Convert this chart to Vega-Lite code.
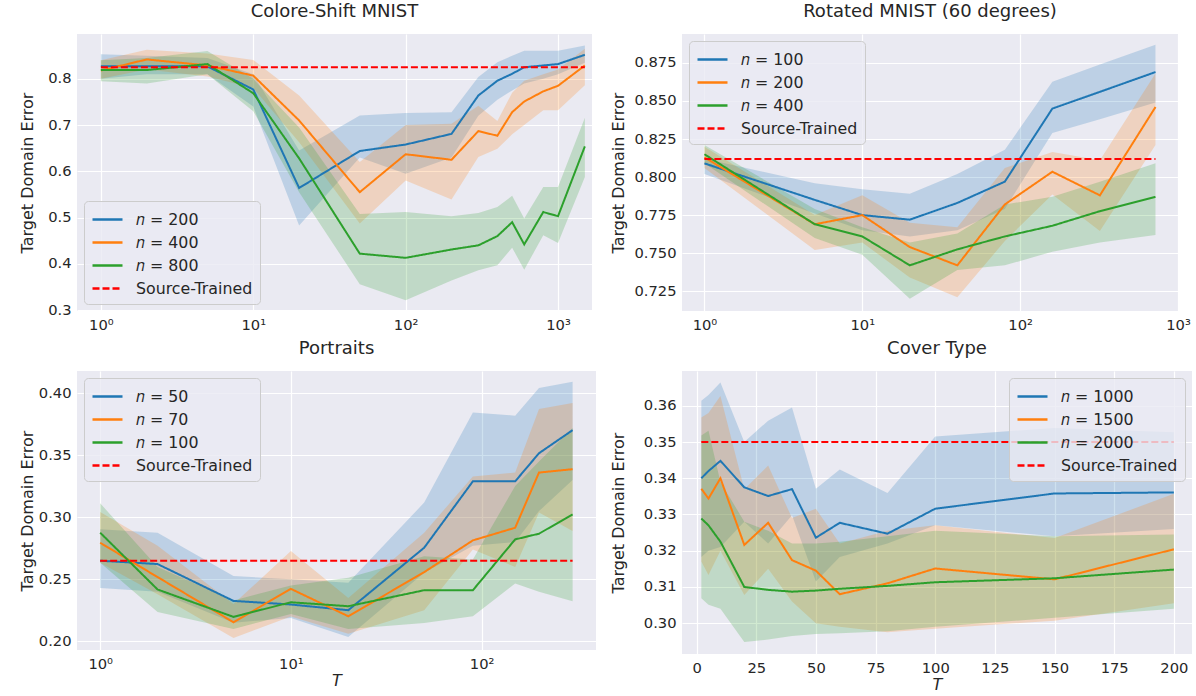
{
  "$schema": "https://vega.github.io/schema/vega-lite/v6.json",
  "padding": {"left": 19, "top": 3, "right": 0, "bottom": 0},
  "columns": 2,
  "spacing": {"row": 8, "column": 14},
  "datasets": {
    "p1": [
      {"x":1,"s":"𝑛 = 200","y":0.827,"lo":0.80,"hi":0.853},
      {"x":2,"s":"𝑛 = 200","y":0.827,"lo":0.81,"hi":0.85},
      {"x":5,"s":"𝑛 = 200","y":0.827,"lo":0.81,"hi":0.845},
      {"x":10,"s":"𝑛 = 200","y":0.777,"lo":0.74,"hi":0.81},
      {"x":20,"s":"𝑛 = 200","y":0.564,"lo":0.483,"hi":0.645},
      {"x":50,"s":"𝑛 = 200","y":0.644,"lo":0.63,"hi":0.721},
      {"x":100,"s":"𝑛 = 200","y":0.658,"lo":0.595,"hi":0.726},
      {"x":200,"s":"𝑛 = 200","y":0.681,"lo":0.63,"hi":0.728},
      {"x":300,"s":"𝑛 = 200","y":0.764,"lo":0.72,"hi":0.804},
      {"x":400,"s":"𝑛 = 200","y":0.796,"lo":0.755,"hi":0.836},
      {"x":500,"s":"𝑛 = 200","y":0.811,"lo":0.775,"hi":0.85},
      {"x":600,"s":"𝑛 = 200","y":0.825,"lo":0.79,"hi":0.861},
      {"x":800,"s":"𝑛 = 200","y":0.829,"lo":0.80,"hi":0.861},
      {"x":1000,"s":"𝑛 = 200","y":0.832,"lo":0.81,"hi":0.861},
      {"x":1500,"s":"𝑛 = 200","y":0.852,"lo":0.835,"hi":0.872},
      {"x":1,"s":"𝑛 = 400","y":0.818,"lo":0.80,"hi":0.84},
      {"x":2,"s":"𝑛 = 400","y":0.842,"lo":0.82,"hi":0.863},
      {"x":5,"s":"𝑛 = 400","y":0.829,"lo":0.805,"hi":0.855},
      {"x":10,"s":"𝑛 = 400","y":0.807,"lo":0.78,"hi":0.841},
      {"x":20,"s":"𝑛 = 400","y":0.71,"lo":0.663,"hi":0.764},
      {"x":50,"s":"𝑛 = 400","y":0.555,"lo":0.487,"hi":0.62},
      {"x":100,"s":"𝑛 = 400","y":0.637,"lo":0.58,"hi":0.70},
      {"x":200,"s":"𝑛 = 400","y":0.625,"lo":0.539,"hi":0.703},
      {"x":300,"s":"𝑛 = 400","y":0.687,"lo":0.631,"hi":0.742},
      {"x":400,"s":"𝑛 = 400","y":0.677,"lo":0.649,"hi":0.709},
      {"x":500,"s":"𝑛 = 400","y":0.728,"lo":0.68,"hi":0.77},
      {"x":600,"s":"𝑛 = 400","y":0.751,"lo":0.70,"hi":0.796},
      {"x":800,"s":"𝑛 = 400","y":0.773,"lo":0.732,"hi":0.81},
      {"x":1000,"s":"𝑛 = 400","y":0.785,"lo":0.732,"hi":0.82},
      {"x":1500,"s":"𝑛 = 400","y":0.829,"lo":0.786,"hi":0.865},
      {"x":1,"s":"𝑛 = 800","y":0.819,"lo":0.795,"hi":0.84},
      {"x":2,"s":"𝑛 = 800","y":0.819,"lo":0.79,"hi":0.845},
      {"x":5,"s":"𝑛 = 800","y":0.832,"lo":0.81,"hi":0.86},
      {"x":10,"s":"𝑛 = 800","y":0.769,"lo":0.73,"hi":0.80},
      {"x":20,"s":"𝑛 = 800","y":0.628,"lo":0.555,"hi":0.695},
      {"x":50,"s":"𝑛 = 800","y":0.422,"lo":0.356,"hi":0.508},
      {"x":100,"s":"𝑛 = 800","y":0.413,"lo":0.321,"hi":0.512},
      {"x":200,"s":"𝑛 = 800","y":0.431,"lo":0.364,"hi":0.503},
      {"x":300,"s":"𝑛 = 800","y":0.44,"lo":0.386,"hi":0.51},
      {"x":400,"s":"𝑛 = 800","y":0.46,"lo":0.397,"hi":0.523},
      {"x":500,"s":"𝑛 = 800","y":0.49,"lo":0.435,"hi":0.547},
      {"x":600,"s":"𝑛 = 800","y":0.442,"lo":0.387,"hi":0.498},
      {"x":800,"s":"𝑛 = 800","y":0.512,"lo":0.462,"hi":0.566},
      {"x":1000,"s":"𝑛 = 800","y":0.503,"lo":0.445,"hi":0.566},
      {"x":1500,"s":"𝑛 = 800","y":0.654,"lo":0.588,"hi":0.716}
    ],
    "p1s": [
      {"x":1,"s":"Source-Trained","y":0.825},
      {"x":1500,"s":"Source-Trained","y":0.825}
    ],
    "p2": [
      {"x":1,"s":"𝑛 = 100","y":0.809,"lo":0.802,"hi":0.812},
      {"x":5,"s":"𝑛 = 100","y":0.785,"lo":0.776,"hi":0.796},
      {"x":10,"s":"𝑛 = 100","y":0.775,"lo":0.765,"hi":0.792},
      {"x":20,"s":"𝑛 = 100","y":0.772,"lo":0.761,"hi":0.789},
      {"x":40,"s":"𝑛 = 100","y":0.783,"lo":0.765,"hi":0.802},
      {"x":80,"s":"𝑛 = 100","y":0.797,"lo":0.779,"hi":0.818},
      {"x":160,"s":"𝑛 = 100","y":0.845,"lo":0.829,"hi":0.8626},
      {"x":320,"s":"𝑛 = 100","y":0.856,"lo":0.838,"hi":0.874},
      {"x":720,"s":"𝑛 = 100","y":0.869,"lo":0.849,"hi":0.887},
      {"x":1,"s":"𝑛 = 200","y":0.813,"lo":0.806,"hi":0.82},
      {"x":5,"s":"𝑛 = 200","y":0.769,"lo":0.752,"hi":0.775},
      {"x":10,"s":"𝑛 = 200","y":0.775,"lo":0.757,"hi":0.788},
      {"x":20,"s":"𝑛 = 200","y":0.754,"lo":0.734,"hi":0.77},
      {"x":40,"s":"𝑛 = 200","y":0.742,"lo":0.721,"hi":0.767},
      {"x":80,"s":"𝑛 = 200","y":0.782,"lo":0.758,"hi":0.806},
      {"x":160,"s":"𝑛 = 200","y":0.8035,"lo":0.7885,"hi":0.8164},
      {"x":320,"s":"𝑛 = 200","y":0.788,"lo":0.7645,"hi":0.811},
      {"x":720,"s":"𝑛 = 200","y":0.846,"lo":0.821,"hi":0.868},
      {"x":1,"s":"𝑛 = 400","y":0.815,"lo":0.809,"hi":0.821},
      {"x":5,"s":"𝑛 = 400","y":0.769,"lo":0.76,"hi":0.779},
      {"x":10,"s":"𝑛 = 400","y":0.761,"lo":0.749,"hi":0.767},
      {"x":20,"s":"𝑛 = 400","y":0.742,"lo":0.72,"hi":0.757},
      {"x":40,"s":"𝑛 = 400","y":0.7525,"lo":0.739,"hi":0.763},
      {"x":80,"s":"𝑛 = 400","y":0.761,"lo":0.742,"hi":0.782},
      {"x":160,"s":"𝑛 = 400","y":0.768,"lo":0.751,"hi":0.787},
      {"x":320,"s":"𝑛 = 400","y":0.7776,"lo":0.757,"hi":0.797},
      {"x":720,"s":"𝑛 = 400","y":0.787,"lo":0.762,"hi":0.809}
    ],
    "p2s": [
      {"x":1,"s":"Source-Trained","y":0.8118},
      {"x":720,"s":"Source-Trained","y":0.8118}
    ],
    "p3": [
      {"x":1,"s":"𝑛 = 50","y":0.265,"lo":0.2431,"hi":0.2903},
      {"x":2,"s":"𝑛 = 50","y":0.2623,"lo":0.24,"hi":0.2876},
      {"x":5,"s":"𝑛 = 50","y":0.2326,"lo":0.215,"hi":0.2526},
      {"x":10,"s":"𝑛 = 50","y":0.2297,"lo":0.2189,"hi":0.25},
      {"x":20,"s":"𝑛 = 50","y":0.2251,"lo":0.2035,"hi":0.2472},
      {"x":50,"s":"𝑛 = 50","y":0.2755,"lo":0.2553,"hi":0.3119},
      {"x":90,"s":"𝑛 = 50","y":0.329,"lo":0.277,"hi":0.3846},
      {"x":150,"s":"𝑛 = 50","y":0.329,"lo":0.28,"hi":0.382},
      {"x":200,"s":"𝑛 = 50","y":0.3517,"lo":0.305,"hi":0.4043},
      {"x":300,"s":"𝑛 = 50","y":0.3703,"lo":0.33,"hi":0.4094},
      {"x":1,"s":"𝑛 = 70","y":0.2795,"lo":0.2633,"hi":0.3043},
      {"x":2,"s":"𝑛 = 70","y":0.2518,"lo":0.238,"hi":0.277},
      {"x":5,"s":"𝑛 = 70","y":0.2154,"lo":0.2027,"hi":0.23},
      {"x":10,"s":"𝑛 = 70","y":0.2423,"lo":0.22,"hi":0.2728},
      {"x":20,"s":"𝑛 = 70","y":0.2202,"lo":0.2062,"hi":0.235},
      {"x":50,"s":"𝑛 = 70","y":0.2558,"lo":0.225,"hi":0.2876},
      {"x":90,"s":"𝑛 = 70","y":0.2814,"lo":0.2741,"hi":0.333},
      {"x":150,"s":"𝑛 = 70","y":0.2916,"lo":0.26,"hi":0.3361},
      {"x":200,"s":"𝑛 = 70","y":0.3361,"lo":0.3038,"hi":0.3873},
      {"x":300,"s":"𝑛 = 70","y":0.3388,"lo":0.2889,"hi":0.3922},
      {"x":1,"s":"𝑛 = 100","y":0.2876,"lo":0.2633,"hi":0.3113},
      {"x":2,"s":"𝑛 = 100","y":0.2418,"lo":0.2237,"hi":0.26},
      {"x":5,"s":"𝑛 = 100","y":0.2197,"lo":0.21,"hi":0.233},
      {"x":10,"s":"𝑛 = 100","y":0.2315,"lo":0.222,"hi":0.245},
      {"x":20,"s":"𝑛 = 100","y":0.2283,"lo":0.21,"hi":0.2512},
      {"x":50,"s":"𝑛 = 100","y":0.2412,"lo":0.2148,"hi":0.2687},
      {"x":90,"s":"𝑛 = 100","y":0.2412,"lo":0.2202,"hi":0.266},
      {"x":150,"s":"𝑛 = 100","y":0.2822,"lo":0.2466,"hi":0.3253},
      {"x":200,"s":"𝑛 = 100","y":0.2868,"lo":0.24,"hi":0.345},
      {"x":300,"s":"𝑛 = 100","y":0.3024,"lo":0.2324,"hi":0.372}
    ],
    "p3s": [
      {"x":1,"s":"Source-Trained","y":0.265},
      {"x":300,"s":"Source-Trained","y":0.265}
    ],
    "p4": [
      {"x":2,"s":"𝑛 = 1000","y":0.34,"lo":0.3183,"hi":0.3614},
      {"x":5,"s":"𝑛 = 1000","y":0.342,"lo":0.32,"hi":0.363},
      {"x":10,"s":"𝑛 = 1000","y":0.3448,"lo":0.321,"hi":0.3664},
      {"x":20,"s":"𝑛 = 1000","y":0.3375,"lo":0.328,"hi":0.35},
      {"x":30,"s":"𝑛 = 1000","y":0.3351,"lo":0.322,"hi":0.3559},
      {"x":40,"s":"𝑛 = 1000","y":0.337,"lo":0.3298,"hi":0.3595},
      {"x":50,"s":"𝑛 = 1000","y":0.3236,"lo":0.3115,"hi":0.3371},
      {"x":60,"s":"𝑛 = 1000","y":0.3277,"lo":0.3183,"hi":0.3424},
      {"x":80,"s":"𝑛 = 1000","y":0.3247,"lo":0.322,"hi":0.3359},
      {"x":100,"s":"𝑛 = 1000","y":0.3316,"lo":0.327,"hi":0.3515},
      {"x":150,"s":"𝑛 = 1000","y":0.3358,"lo":0.324,"hi":0.3539},
      {"x":200,"s":"𝑛 = 1000","y":0.3361,"lo":0.326,"hi":0.3527},
      {"x":2,"s":"𝑛 = 1500","y":0.3371,"lo":0.317,"hi":0.3568},
      {"x":5,"s":"𝑛 = 1500","y":0.3344,"lo":0.3133,"hi":0.358},
      {"x":10,"s":"𝑛 = 1500","y":0.34,"lo":0.32,"hi":0.3627},
      {"x":20,"s":"𝑛 = 1500","y":0.3216,"lo":0.3078,"hi":0.337},
      {"x":30,"s":"𝑛 = 1500","y":0.3277,"lo":0.315,"hi":0.3435},
      {"x":40,"s":"𝑛 = 1500","y":0.3174,"lo":0.306,"hi":0.329},
      {"x":50,"s":"𝑛 = 1500","y":0.3145,"lo":0.30,"hi":0.3316},
      {"x":60,"s":"𝑛 = 1500","y":0.308,"lo":0.299,"hi":0.322},
      {"x":80,"s":"𝑛 = 1500","y":0.311,"lo":0.2975,"hi":0.3255},
      {"x":100,"s":"𝑛 = 1500","y":0.3151,"lo":0.2985,"hi":0.327},
      {"x":150,"s":"𝑛 = 1500","y":0.3121,"lo":0.3007,"hi":0.3235},
      {"x":200,"s":"𝑛 = 1500","y":0.3204,"lo":0.3055,"hi":0.3357},
      {"x":2,"s":"𝑛 = 2000","y":0.3289,"lo":0.3069,"hi":0.3518},
      {"x":5,"s":"𝑛 = 2000","y":0.327,"lo":0.3051,"hi":0.3531},
      {"x":10,"s":"𝑛 = 2000","y":0.3225,"lo":0.304,"hi":0.339},
      {"x":20,"s":"𝑛 = 2000","y":0.31,"lo":0.2948,"hi":0.328},
      {"x":30,"s":"𝑛 = 2000","y":0.3092,"lo":0.2955,"hi":0.3255},
      {"x":40,"s":"𝑛 = 2000","y":0.3087,"lo":0.2965,"hi":0.322},
      {"x":50,"s":"𝑛 = 2000","y":0.309,"lo":0.297,"hi":0.322},
      {"x":60,"s":"𝑛 = 2000","y":0.3095,"lo":0.2972,"hi":0.3225},
      {"x":80,"s":"𝑛 = 2000","y":0.3103,"lo":0.2978,"hi":0.324},
      {"x":100,"s":"𝑛 = 2000","y":0.3113,"lo":0.299,"hi":0.3255},
      {"x":150,"s":"𝑛 = 2000","y":0.3124,"lo":0.3015,"hi":0.324},
      {"x":200,"s":"𝑛 = 2000","y":0.3148,"lo":0.304,"hi":0.3245}
    ],
    "p4s": [
      {"x":2,"s":"Source-Trained","y":0.35},
      {"x":200,"s":"Source-Trained","y":0.35}
    ]
  },
  "concat": [
    {
      "title": "Colore-Shift MNIST",
      "width": 515, "height": 277,
      "encoding": {
        "x": {"field": "x", "type": "quantitative", "scale": {"type": "log", "domain": [0.697, 1671], "nice": false},
              "axis": {"values": [1, 10, 100, 1000], "labelExpr": "datum.value == 1 ? '10⁰' : datum.value == 10 ? '10¹' : datum.value == 100 ? '10²' : '10³'", "title": null}}
      },
      "layer": [
        {"data": {"name": "p1"}, "mark": {"type": "area", "fillOpacity": 0.22},
         "encoding": {
           "y": {"field": "lo", "type": "quantitative", "scale": {"domain": [0.298, 0.897], "nice": false, "zero": false},
                 "axis": {"values": [0.3, 0.4, 0.5, 0.6, 0.7, 0.8], "format": ".1f", "title": "Target Domain Error", "minExtent": 38, "maxExtent": 38}},
           "y2": {"field": "hi"},
           "fill": {"field": "s", "type": "nominal", "scale": {"domain": ["𝑛 = 200", "𝑛 = 400", "𝑛 = 800"], "range": ["#1f77b4", "#ff7f0e", "#2ca02c"]}, "legend": null}
         }},
        {"data": {"name": "p1"}, "mark": {"type": "line", "strokeWidth": 2},
         "encoding": {
           "y": {"field": "y", "type": "quantitative", "axis": {"values": [0.3, 0.4, 0.5, 0.6, 0.7, 0.8], "format": ".1f", "title": "Target Domain Error", "minExtent": 38, "maxExtent": 38}},
           "color": {"field": "s", "type": "nominal", "scale": {"domain": ["𝑛 = 200", "𝑛 = 400", "𝑛 = 800", "Source-Trained"], "range": ["#1f77b4", "#ff7f0e", "#2ca02c", "#ff0000"]}, "legend": {"orient": "bottom-left"}},
           "strokeDash": {"field": "s", "type": "nominal", "scale": {"domain": ["𝑛 = 200", "𝑛 = 400", "𝑛 = 800", "Source-Trained"], "range": [[1, 0], [1, 0], [1, 0], [7, 3]]}, "legend": {"orient": "bottom-left"}}
         }},
        {"data": {"name": "p1s"}, "mark": {"type": "line", "strokeWidth": 2},
         "encoding": {
           "y": {"field": "y", "type": "quantitative"},
           "color": {"field": "s", "type": "nominal"},
           "strokeDash": {"field": "s", "type": "nominal"}
         }}
      ]
    },
    {
      "title": "Rotated MNIST (60 degrees)",
      "width": 496, "height": 277,
      "encoding": {
        "x": {"field": "x", "type": "quantitative", "scale": {"type": "log", "domain": [0.721, 1000], "nice": false},
              "axis": {"values": [1, 10, 100, 1000], "labelExpr": "datum.value == 1 ? '10⁰' : datum.value == 10 ? '10¹' : datum.value == 100 ? '10²' : '10³'", "title": null}}
      },
      "layer": [
        {"data": {"name": "p2"}, "mark": {"type": "area", "fillOpacity": 0.22},
         "encoding": {
           "y": {"field": "lo", "type": "quantitative", "scale": {"domain": [0.712, 0.894], "nice": false, "zero": false},
                 "axis": {"values": [0.725, 0.75, 0.775, 0.8, 0.825, 0.85, 0.875], "format": ".3f", "title": "Target Domain Error", "minExtent": 52, "maxExtent": 52}},
           "y2": {"field": "hi"},
           "fill": {"field": "s", "type": "nominal", "scale": {"domain": ["𝑛 = 100", "𝑛 = 200", "𝑛 = 400"], "range": ["#1f77b4", "#ff7f0e", "#2ca02c"]}, "legend": null}
         }},
        {"data": {"name": "p2"}, "mark": {"type": "line", "strokeWidth": 2},
         "encoding": {
           "y": {"field": "y", "type": "quantitative", "axis": {"values": [0.725, 0.75, 0.775, 0.8, 0.825, 0.85, 0.875], "format": ".3f", "title": "Target Domain Error", "minExtent": 52, "maxExtent": 52}},
           "color": {"field": "s", "type": "nominal", "scale": {"domain": ["𝑛 = 100", "𝑛 = 200", "𝑛 = 400", "Source-Trained"], "range": ["#1f77b4", "#ff7f0e", "#2ca02c", "#ff0000"]}, "legend": {"orient": "top-left"}},
           "strokeDash": {"field": "s", "type": "nominal", "scale": {"domain": ["𝑛 = 100", "𝑛 = 200", "𝑛 = 400", "Source-Trained"], "range": [[1, 0], [1, 0], [1, 0], [7, 3]]}, "legend": {"orient": "top-left"}}
         }},
        {"data": {"name": "p2s"}, "mark": {"type": "line", "strokeWidth": 2},
         "encoding": {
           "y": {"field": "y", "type": "quantitative"},
           "color": {"field": "s", "type": "nominal"},
           "strokeDash": {"field": "s", "type": "nominal"}
         }}
      ]
    },
    {
      "title": "Portraits",
      "width": 519, "height": 279,
      "encoding": {
        "x": {"field": "x", "type": "quantitative", "scale": {"type": "log", "domain": [0.756, 398], "nice": false},
              "axis": {"values": [1, 10, 100], "labelExpr": "datum.value == 1 ? '10⁰' : datum.value == 10 ? '10¹' : '10²'", "title": "T", "titleFontStyle": "italic"}}
      },
      "layer": [
        {"data": {"name": "p3"}, "mark": {"type": "area", "fillOpacity": 0.22},
         "encoding": {
           "y": {"field": "lo", "type": "quantitative", "scale": {"domain": [0.193, 0.418], "nice": false, "zero": false},
                 "axis": {"values": [0.2, 0.25, 0.3, 0.35, 0.4], "format": ".2f", "title": "Target Domain Error", "minExtent": 38, "maxExtent": 38}},
           "y2": {"field": "hi"},
           "fill": {"field": "s", "type": "nominal", "scale": {"domain": ["𝑛 = 50", "𝑛 = 70", "𝑛 = 100"], "range": ["#1f77b4", "#ff7f0e", "#2ca02c"]}, "legend": null}
         }},
        {"data": {"name": "p3"}, "mark": {"type": "line", "strokeWidth": 2},
         "encoding": {
           "y": {"field": "y", "type": "quantitative", "axis": {"values": [0.2, 0.25, 0.3, 0.35, 0.4], "format": ".2f", "title": "Target Domain Error", "minExtent": 38, "maxExtent": 38}},
           "color": {"field": "s", "type": "nominal", "scale": {"domain": ["𝑛 = 50", "𝑛 = 70", "𝑛 = 100", "Source-Trained"], "range": ["#1f77b4", "#ff7f0e", "#2ca02c", "#ff0000"]}, "legend": {"orient": "top-left"}},
           "strokeDash": {"field": "s", "type": "nominal", "scale": {"domain": ["𝑛 = 50", "𝑛 = 70", "𝑛 = 100", "Source-Trained"], "range": [[1, 0], [1, 0], [1, 0], [7, 3]]}, "legend": {"orient": "top-left"}}
         }},
        {"data": {"name": "p3s"}, "mark": {"type": "line", "strokeWidth": 2},
         "encoding": {
           "y": {"field": "y", "type": "quantitative"},
           "color": {"field": "s", "type": "nominal"},
           "strokeDash": {"field": "s", "type": "nominal"}
         }}
      ]
    },
    {
      "title": "Cover Type",
      "width": 510, "height": 283,
      "encoding": {
        "x": {"field": "x", "type": "quantitative", "scale": {"domain": [-6.1, 207.6], "nice": false, "zero": false},
              "axis": {"values": [0, 25, 50, 75, 100, 125, 150, 175, 200], "title": "T", "titleFontStyle": "italic"}}
      },
      "layer": [
        {"data": {"name": "p4"}, "mark": {"type": "area", "fillOpacity": 0.22},
         "encoding": {
           "y": {"field": "lo", "type": "quantitative", "scale": {"domain": [0.2915, 0.3696], "nice": false, "zero": false},
                 "axis": {"values": [0.3, 0.31, 0.32, 0.33, 0.34, 0.35, 0.36], "format": ".2f", "title": "Target Domain Error", "minExtent": 52, "maxExtent": 52}},
           "y2": {"field": "hi"},
           "fill": {"field": "s", "type": "nominal", "scale": {"domain": ["𝑛 = 1000", "𝑛 = 1500", "𝑛 = 2000"], "range": ["#1f77b4", "#ff7f0e", "#2ca02c"]}, "legend": null}
         }},
        {"data": {"name": "p4"}, "mark": {"type": "line", "strokeWidth": 2},
         "encoding": {
           "y": {"field": "y", "type": "quantitative", "axis": {"values": [0.3, 0.31, 0.32, 0.33, 0.34, 0.35, 0.36], "format": ".2f", "title": "Target Domain Error", "minExtent": 52, "maxExtent": 52}},
           "color": {"field": "s", "type": "nominal", "scale": {"domain": ["𝑛 = 1000", "𝑛 = 1500", "𝑛 = 2000", "Source-Trained"], "range": ["#1f77b4", "#ff7f0e", "#2ca02c", "#ff0000"]}, "legend": {"orient": "top-right"}},
           "strokeDash": {"field": "s", "type": "nominal", "scale": {"domain": ["𝑛 = 1000", "𝑛 = 1500", "𝑛 = 2000", "Source-Trained"], "range": [[1, 0], [1, 0], [1, 0], [7, 3]]}, "legend": {"orient": "top-right"}}
         }},
        {"data": {"name": "p4s"}, "mark": {"type": "line", "strokeWidth": 2},
         "encoding": {
           "y": {"field": "y", "type": "quantitative"},
           "color": {"field": "s", "type": "nominal"},
           "strokeDash": {"field": "s", "type": "nominal"}
         }}
      ]
    }
  ],
  "resolve": {"scale": {"color": "independent", "strokeDash": "independent", "fill": "independent", "x": "independent", "y": "independent"}, "legend": {"color": "independent", "strokeDash": "independent"}},
  "config": {
    "background": "white",
    "view": {"fill": "#EAEAF2", "stroke": null},
    "font": "DejaVu Sans",
    "title": {"font": "DejaVu Sans", "fontSize": 18, "fontWeight": "normal", "color": "#262626", "offset": 13},
    "axis": {"grid": true, "gridColor": "#ffffff", "gridWidth": 1.2, "domain": false, "ticks": false,
             "labelFont": "DejaVu Sans", "labelFontSize": 14.7, "labelColor": "#262626", "labelPadding": 6,
             "titleFont": "DejaVu Sans", "titleFontSize": 16, "titleFontWeight": "normal", "titleColor": "#262626"},
    "axisY": {"titlePadding": 4},
    "axisX": {"titlePadding": 2, "labelFlush": false},
    "legend": {"title": null, "offset": 7, "symbolType": "M-1,0H2", "symbolSize": 400, "symbolStrokeWidth": 2.5,
               "labelFont": "DejaVu Sans", "labelFontSize": 15.8, "labelColor": "#262626", "labelOffset": 22,
               "fillColor": "rgba(234,234,242,0.8)", "strokeColor": "#cccccc", "cornerRadius": 4, "padding": 7, "rowPadding": 3}
  }
}
